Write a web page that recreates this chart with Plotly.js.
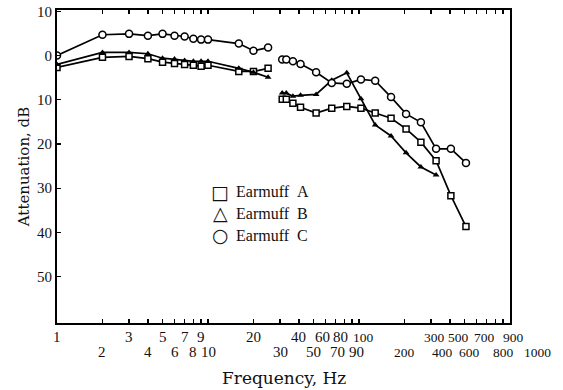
<!DOCTYPE html>
<html>
<head>
<meta charset="utf-8">
<script src="https://cdn.plot.ly/plotly-3.0.1.min.js"></script>
<style>
html,body{margin:0;padding:0;background:#fff;}
#chart{width:563px;height:390px;}
</style>
</head>
<body>
<div id="chart"></div>
<script>
// Frequencies (Hz)
const freqLow = [1, 2, 3, 4, 5, 6, 7, 8, 9, 10, 16, 20, 25];
const freqHigh = [31, 33, 36.5, 41, 52, 66, 83, 103, 128, 163, 205, 257, 324, 406, 511];

// Attenuation (dB); negative = above the 0 line
const earmuffA_low = [2.7, 0.4, 0.2, 0.7, 1.5, 1.8, 2.0, 2.2, 2.4, 2.2, 3.6, 3.6, 2.9];
const earmuffA_high = [9.9, 9.9, 10.8, 11.7, 13.0, 11.9, 11.5, 11.9, 13.0, 14.2, 16.6, 19.6, 23.8, 31.7, 38.7];

const earmuffB_low = [2.0, -0.7, -0.7, -0.4, 0.6, 0.8, 1.1, 1.3, 1.3, 1.3, 2.9, 3.8, 4.9];
const earmuffB_high = [8.5, 8.5, 9.2, 9.0, 8.8, 5.6, 3.9, 9.8, 15.7, 18.2, 22.0, 25.2, 27.0];

const earmuffC_low = [0.0, -4.7, -4.9, -4.5, -4.9, -4.5, -4.3, -3.8, -3.6, -3.6, -2.7, -1.1, -1.8];
const earmuffC_high = [0.9, 0.9, 1.3, 1.9, 3.8, 6.2, 6.4, 5.4, 5.7, 9.4, 13.2, 15.1, 21.1, 21.1, 24.3];

// Axis ticks (x labels in two staggered rows)
const xTickVals = [1,2,3,4,5,6,7,8,9,10,20,30,40,50,60,70,80,90,100,200,300,400,500,600,700,800,900,1000];
const xTickLabels = ["1","2","3","4","5","6","7","8","9","10","20","30","40","50","60","70","80","90","100","200","300","400","500","600","700","800","900","1000"];
const yTickVals = [-10, 0, 10, 20, 30, 40, 50];
const yTickText = ["10", "0", "10", "20", "30", "40", "50"];

const legendNames = ["Earmuff\u00a0\u00a0A", "Earmuff\u00a0\u00a0B", "Earmuff\u00a0\u00a0C"];
const legendSymbols = ["\u25a1", "\u25b3", "\u25cb"];

// style: horizontal nudges (px) of crowded labels, as in the original
const labelNudge = {60: -3, 80: -4, 100: 4, 70: 2, 90: 4, 300: 3, 500: -6, 700: -2, 900: 10, 400: -7, 600: -7, 800: 8, 1000: 27};

const serif = 'Liberation Serif, Times New Roman, serif';
const wideSerif = 'DejaVu Serif, Liberation Serif, serif';

function join(lowX, highX, lowY, highY) {
  return { x: lowX.concat([null], highX.slice(0, highY.length)), y: lowY.concat([null], highY) };
}

const A = join(freqLow, freqHigh, earmuffA_low, earmuffA_high);
const B = join(freqLow, freqHigh, earmuffB_low, earmuffB_high);
const C = join(freqLow, freqHigh, earmuffC_low, earmuffC_high);

const lineStyle = { color: '#000', width: 1.7 };
const traces = [
  { x: A.x, y: A.y, mode: 'lines+markers', connectgaps: false, line: lineStyle,
    marker: { symbol: 'square', size: 6, color: '#fff', line: { width: 1.5, color: '#000' } }, name: 'Earmuff A' },
  { x: B.x, y: B.y, mode: 'lines+markers', connectgaps: false, line: lineStyle,
    marker: { symbol: 'triangle-up', size: 6, color: '#000' }, name: 'Earmuff B' },
  { x: C.x, y: C.y, mode: 'lines+markers', connectgaps: false, line: lineStyle,
    marker: { symbol: 'circle', size: 7, color: '#fff', line: { width: 1.5, color: '#000' } }, name: 'Earmuff C' }
];

const annotations = [];
// x tick labels, placed at the axis' own tick positions (log axis -> log10 value)
xTickVals.forEach((v, i) => {
  const lbl = xTickLabels[i];
  annotations.push({
    text: lbl, xref: 'x', yref: 'paper', x: Math.log10(v), y: 0,
    xanchor: 'center', yanchor: 'middle', showarrow: false,
    xshift: labelNudge[v] || 0, yshift: (i % 2 === 0) ? -14 : -29,
    font: { family: serif, size: lbl.length >= 3 ? 13.5 : 15, color: '#111' }
  });
});
// legend
legendNames.forEach((t, i) => {
  annotations.push({
    text: legendSymbols[i], xref: 'paper', yref: 'paper', x: 0.36, y: 0.42 - i * 0.07,
    xanchor: 'center', yanchor: 'middle', showarrow: false,
    font: { family: 'DejaVu Sans', size: 19, color: '#111' }
  });
  annotations.push({
    text: t, xref: 'paper', yref: 'paper', x: 0.39, y: 0.42 - i * 0.07,
    xanchor: 'left', yanchor: 'middle', showarrow: false,
    font: { family: serif, size: 16, color: '#111' }
  });
});

const layout = {
  width: 563, height: 390,
  margin: { l: 57, r: 53, t: 10, b: 67 },
  paper_bgcolor: '#fff', plot_bgcolor: '#fff',
  showlegend: false,
  font: { family: serif, color: '#111', size: 14 },
  xaxis: {
    type: 'log', range: [0, 3],
    tickvals: xTickVals, showticklabels: false,
    ticks: 'inside', ticklen: 4, tickwidth: 1.2, tickcolor: '#000',
    showline: true, linecolor: '#000', linewidth: 2, mirror: 'allticks',
    showgrid: false, zeroline: false
  },
  yaxis: {
    range: [60.5, -10.3],
    tickvals: yTickVals, ticktext: yTickText,
    ticks: 'inside', ticklen: 4, tickwidth: 1.2, tickcolor: '#000',
    showline: true, linecolor: '#000', linewidth: 2, mirror: true,
    showgrid: false, zeroline: false,
    tickfont: { family: serif, size: 15, color: '#111' },
    title: { text: 'Attenuation, dB', font: { family: wideSerif, size: 15, color: '#111' }, standoff: 4 }
  },
  annotations: annotations.concat([{
    text: 'Frequency, Hz', xref: 'paper', yref: 'paper', x: 0.5, y: 0,
    xanchor: 'center', yanchor: 'middle', showarrow: false, yshift: -55,
    font: { family: wideSerif, size: 17, color: '#111' }
  }])
};

Plotly.newPlot('chart', traces, layout, { staticPlot: true, displayModeBar: false });
</script>
</body>
</html>
